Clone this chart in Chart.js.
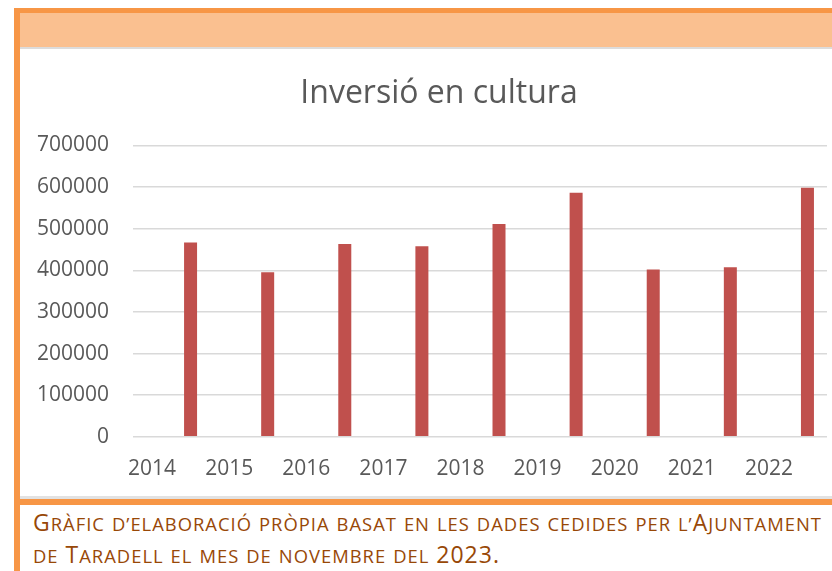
<!DOCTYPE html>
<html lang="ca">
<head>
<meta charset="utf-8">
<title>Inversió en cultura</title>
<script src="https://cdn.jsdelivr.net/npm/chart.js@4.4.0/dist/chart.umd.min.js"></script>
<style>
  html, body { margin: 0; padding: 0; background: #ffffff; }
  body { width: 832px; height: 571px; position: relative; overflow: hidden; }
  .abs { position: absolute; }
  #topBorder { left: 14px; top: 8px; width: 900px; height: 5px; background: #F79646; }
  #leftBorder { left: 14px; top: 8px; width: 6px; height: 600px; background: #F79646; }
  #band { left: 20px; top: 13px; width: 900px; height: 34px; background: #FAC090; }
  #bandShadow { left: 20px; top: 47px; width: 900px; height: 2px; background: #dcdcdc; }
  #chartBox { left: 20px; top: 49px; width: 812px; height: 445px; }
  #bottomShadow { left: 20px; top: 496px; width: 900px; height: 3px; background: #e2e2e2; }
  #bottomBar { left: 20px; top: 499px; width: 900px; height: 6px; background: #F79646; }
  #caption {
    left: 33px; top: 507px; width: 1000px;
    font-family: "Open Sans", sans-serif;
    font-size: 23px; line-height: 31px;
    color: #984807;
    white-space: nowrap;
    letter-spacing: 1px;
  }
  #caption .sc { font-size: 0.8em; text-transform: uppercase; }
</style>
</head>
<body>
<div class="abs" id="topBorder"></div>
<div class="abs" id="band"></div>
<div class="abs" id="bandShadow"></div>
<div class="abs" id="leftBorder"></div>
<div class="abs" id="chartBox"><canvas id="chart"></canvas></div>
<div class="abs" id="bottomShadow"></div>
<div class="abs" id="bottomBar"></div>
<div class="abs" id="caption"></div>

<script>
// ---- data ----
const chartTitle = 'Inversió en cultura';
const years = ['2014', '2015', '2016', '2017', '2018', '2019', '2020', '2021', '2022'];
const inversio = [467000, 395000, 463000, 458000, 511000, 586000, 402000, 407000, 598000];
const yTickValues = [0, 100000, 200000, 300000, 400000, 500000, 600000, 700000];
const captionLines = [
  'Gràfic d’elaboració pròpia basat en les dades cedides per l’Ajuntament',
  'de Taradell el mes de novembre del 2023.'
];

// ---- caption (small caps: lowercase letters drawn as smaller capitals) ----
const cap = document.getElementById('caption');
captionLines.forEach((line, li) => {
  const parts = line.match(/[a-zà-ÿ’]+|[^a-zà-ÿ’]+/g);
  parts.forEach(p => {
    if (/^[a-zà-ÿ’]+$/.test(p)) {
      const s = document.createElement('span');
      s.className = 'sc';
      s.textContent = p;
      cap.appendChild(s);
    } else {
      cap.appendChild(document.createTextNode(p));
    }
  });
  if (li < captionLines.length - 1) cap.appendChild(document.createElement('br'));
});

// ---- chart ----
const textColor = '#595959';
const barColor = '#C0504D';
const LEFT_SHIFT = 31;

// the y tick labels extend left of the (narrowed) axis box; widen its label clip area
const widenYLabelArea = {
  id: 'widenYLabelArea',
  afterLayout(chart) { chart.scales.y.left -= LEFT_SHIFT; }
};

new Chart(document.getElementById('chart'), {
  type: 'bar',
  data: {
    labels: years,
    datasets: [
      { label: '', data: years.map(() => null), backgroundColor: 'rgba(0,0,0,0)' },
      { label: chartTitle, data: inversio, backgroundColor: barColor }
    ]
  },
  plugins: [widenYLabelArea],
  options: {
    responsive: true,
    maintainAspectRatio: false,
    animation: false,
    categoryPercentage: 0.986,
    barPercentage: 0.342,
    layout: { padding: { left: LEFT_SHIFT, right: 5, top: 26, bottom: 0 } },
    plugins: {
      legend: { display: false },
      tooltip: { enabled: false },
      title: {
        display: true,
        text: chartTitle,
        color: textColor,
        font: { family: 'Open Sans', size: 32, weight: 'normal' },
        padding: { top: 0, bottom: 32 }
      }
    },
    scales: {
      x: {
        grid: { display: false },
        border: { display: false },
        ticks: {
          color: textColor,
          font: { family: 'Open Sans', size: 21 },
          padding: 12,
          labelOffset: -19.5,
          maxRotation: 0,
          autoSkip: false
        }
      },
      y: {
        min: yTickValues[0],
        max: yTickValues[yTickValues.length - 1],
        afterBuildTicks: (scale) => { scale.ticks = yTickValues.map(v => ({ value: v })); },
        afterFit: (scale) => { scale.width = 82; },
        grid: { color: '#d9d9d9', lineWidth: 1.5, drawTicks: false },
        border: { display: false },
        ticks: {
          color: textColor,
          font: { family: 'Open Sans', size: 21 },
          padding: 24,
          callback: (v) => String(v)
        }
      }
    }
  }
});
</script>
</body>
</html>
